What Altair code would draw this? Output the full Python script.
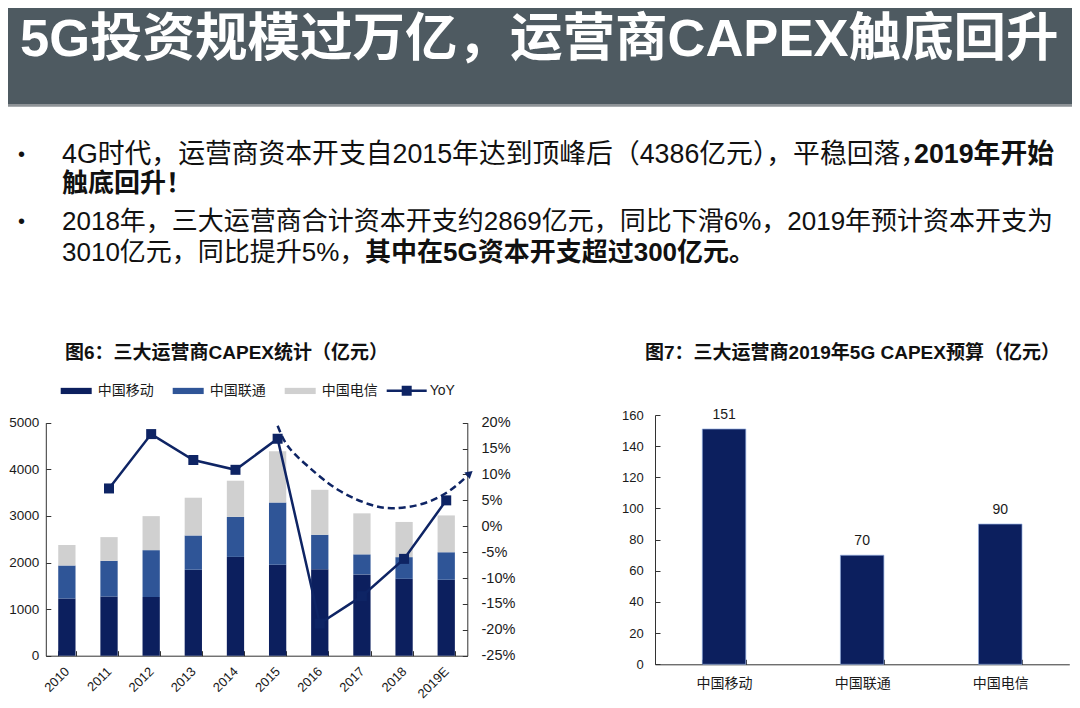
import altair as alt
import pandas as pd

# ---------------- data ----------------
years = ["2010", "2011", "2012", "2013", "2014", "2015", "2016", "2017", "2018", "2019E"]
operators = ["中国移动", "中国联通", "中国电信"]
capex_cmcc = [1225, 1270, 1260, 1845, 2120, 1950, 1855, 1745, 1650, 1630]
capex_cucc = [710, 765, 1005, 735, 860, 1335, 740, 430, 465, 590]
capex_ctc = [440, 510, 730, 810, 775, 1100, 965, 880, 755, 790]
yoy_pct = [None, 7.3, 17.8, 12.8, 10.9, 16.9, -18.8, -13.5, -6.3, 5.0]
# dashed trend annotation (x in category index units, y in YoY %)
trend_x = [5.0, 5.25, 5.73, 6.44, 7.23, 7.78, 8.42, 9.05, 9.56]
trend_y = [19.4, 15.4, 11.5, 7.0, 4.1, 3.5, 4.3, 6.7, 10.2]
budget_5g = [151, 70, 90]
capex_ticks = [0, 1000, 2000, 3000, 4000, 5000]
yoy_ticks = [-25, -20, -15, -10, -5, 0, 5, 10, 15, 20]
budget_ticks = [0, 20, 40, 60, 80, 100, 120, 140, 160]

slide_title = "5G投资规模过万亿，运营商CAPEX触底回升"
b1_normal = "4G时代，运营商资本开支自2015年达到顶峰后（4386亿元），平稳回落，"
b1_bold = "2019年开始"
b1_line2 = "触底回升！"
b2_line1 = "2018年，三大运营商合计资本开支约2869亿元，同比下滑6%，2019年预计资本开支为"
b2_normal = "3010亿元，同比提升5%，"
b2_bold = "其中在5G资本开支超过300亿元。"
fig6_title = "图6：三大运营商CAPEX统计（亿元）"
fig7_title = "图7：三大运营商2019年5G CAPEX预算（亿元）"

# ---------------- style ----------------
NAVY = "#0c1f5e"
BLUE = "#2f5597"
GREY = "#d0d0d0"
LINE = "#0e2464"
HDR = "#4e5a61"
FONT = "Liberation Sans, Noto Sans CJK SC"
CJK = "Noto Sans CJK SC"
W, H = 1064, 692
OX, OY = 8, 8  # page margin


def px(x):
    return x - OX


def py(y):
    return y - OY


L_X0, L_X1 = px(45.8), px(467.3)
L_Y0, L_Y1 = py(655.7), py(422.7)
R_X0, R_X1 = px(655), px(1069.3)
R_Y0, R_Y1 = py(664.3), py(415)

one = pd.DataFrame({"k": [0]})


def txt(s, x, y, size, bold=False, color="#111111", font=FONT, align="left"):
    return alt.Chart(one).mark_text(
        text=s, align=align, baseline="middle", fontSize=size,
        fontWeight="bold" if bold else "normal", color=color, font=font
    ).encode(x=alt.value(x), y=alt.value(y))


def rect(x, x2, y, y2, color):
    return alt.Chart(one).mark_rect(color=color).encode(
        x=alt.value(x), x2=alt.value(x2), y=alt.value(y), y2=alt.value(y2))


tick_in = {"expr": "-5"}
ax_common = dict(domainColor="#333333", tickColor="#333333", labelColor="#1a1a1a",
                 title=None, grid=False, tickSize=tick_in, domainWidth=1, tickWidth=1,
                 labelOverlap=False, labelFlush=False)

# ---------------- header & text ----------------
layers = [
    rect(0, W, 0, py(104), HDR),
    rect(0, W, py(104), py(106.7), "#8e9397"),
    txt(slide_title, px(20), py(40), 52.5, bold=True, color="#ffffff"),
    txt("•", px(18), py(155), 20),
    txt(b1_normal, px(62), py(155), 26.8),
    txt(b1_bold, px(914), py(155), 26.8, bold=True),
    txt(b1_line2, px(62), py(184), 26, bold=True),
    txt("•", px(18), py(222), 20),
    txt(b2_line1, px(62), py(222), 26),
    txt(b2_normal, px(62), py(253), 26),
    txt(b2_bold, px(365), py(253), 26, bold=True),
    txt(fig6_title, px(65), py(353), 19, bold=True),
    txt(fig7_title, px(645), py(353), 19, bold=True),
]

# ---------------- left chart: stacked CAPEX + YoY ----------------
bar_df = pd.DataFrame({
    "year": years * 3,
    "op": [operators[0]] * 10 + [operators[1]] * 10 + [operators[2]] * 10,
    "value": capex_cmcc + capex_cucc + capex_ctc,
    "ord": [0] * 10 + [1] * 10 + [2] * 10,
})
yoy_df = pd.DataFrame({"year": years, "yoy": yoy_pct, "s": ["YoY"] * 10}).dropna()
trend_df = pd.DataFrame({"tx": trend_x, "ty": trend_y})
arrow_df = trend_df.tail(1)


def xL():
    return alt.Scale(domain=years, range=[L_X0, L_X1], paddingInner=0.59, paddingOuter=0.295)


def yCap():
    return alt.Scale(domain=[0, 5000], range=[L_Y0, L_Y1], nice=False)


def yYoy():
    return alt.Scale(domain=[-25, 20], range=[L_Y0, L_Y1], nice=False, zero=False)


bars = alt.Chart(bar_df).mark_bar().encode(
    x=alt.X("year:N", sort=years, scale=xL(), axis=alt.Axis(
        orient="bottom", offset=-(H - L_Y0), tickBand="extent", labelAngle=315,
        labelAlign="right", labelBaseline="middle", labelPadding=18.3,
        labelFont="Liberation Sans", labelFontSize=13, **ax_common)),
    y=alt.Y("value:Q", stack="zero", scale=yCap(), axis=alt.Axis(
        orient="left", offset=-L_X0, values=capex_ticks, format="d",
        labelAlign="right", labelBaseline="middle", labelPadding=12,
        labelFont="Liberation Sans", labelFontSize=13.5, **ax_common)),
    color=alt.Color("op:N", scale=alt.Scale(domain=operators, range=[NAVY, BLUE, GREY]),
                    legend=alt.Legend(
                        orient="none", legendX=px(60.7), legendY=py(390.7) - 15.5,
                        direction="horizontal", title=None,
                        symbolType="M-1,-0.2H1V0.2H-1Z", symbolSize=961, symbolStrokeWidth=0,
                        labelFont=CJK, labelFontSize=14, labelOffset=6, columnPadding=19,
                        padding=0, labelColor="#1a1a1a")),
    order=alt.Order("ord:Q", sort="ascending"),
)

yoy_line = alt.Chart(yoy_df).mark_line(color=LINE, strokeWidth=2.5).encode(
    x=alt.X("year:N", sort=years, scale=xL(), axis=None),
    y=alt.Y("yoy:Q", scale=yYoy(), axis=alt.Axis(
        orient="right", offset=-(W - L_X1), values=yoy_ticks, labelExpr="datum.value + '%'",
        labelAlign="left", labelBaseline="middle", labelPadding=18.7,
        labelFont="Liberation Sans", labelFontSize=14.5, **ax_common)),
)

yoy_pts = alt.Chart(yoy_df).mark_point(shape="square", filled=True, size=100, opacity=1).encode(
    x=alt.X("year:N", sort=years, scale=xL(), axis=None),
    y=alt.Y("yoy:Q", scale=yYoy(), axis=None),
    color=alt.Color("s:N", scale=alt.Scale(domain=["YoY"], range=[LINE]), legend=alt.Legend(
        orient="none", legendX=px(386.7), legendY=py(390.7) - 20, title=None,
        symbolType="M-1,-0.06H1V0.06H-1Z M-0.25,-0.25H0.25V0.25H-0.25Z",
        symbolSize=1600, symbolStrokeWidth=0, labelFont="Liberation Sans",
        labelFontSize=14, labelOffset=3, padding=0, labelColor="#1a1a1a")),
)

trend = alt.Chart(trend_df).mark_line(color=LINE, strokeWidth=2.5, strokeDash=[7, 4],
                                      interpolate="natural").encode(
    x=alt.X("tx:Q", scale=alt.Scale(domain=[-0.5, 9.5], range=[L_X0, L_X1], nice=False, zero=False),
            axis=None),
    y=alt.Y("ty:Q", scale=yYoy(), axis=None),
)

arrow = alt.Chart(arrow_df).mark_point(shape="triangle-up", filled=True, size=70, angle=50,
                                       color=LINE, opacity=1).encode(
    x=alt.X("tx:Q", scale=alt.Scale(domain=[-0.5, 9.5], range=[L_X0, L_X1], nice=False, zero=False),
            axis=None),
    y=alt.Y("ty:Q", scale=yYoy(), axis=None),
)

# ---------------- right chart: 5G budget ----------------
b_df = pd.DataFrame({"op": operators, "v": budget_5g})


def xR():
    return alt.Scale(domain=operators, range=[R_X0, R_X1], paddingInner=0.685, paddingOuter=0.3425)


def yR():
    return alt.Scale(domain=[0, 160], range=[R_Y0, R_Y1], nice=False)


r_bars = alt.Chart(b_df).mark_bar(color=NAVY, stroke="#8faadc", strokeWidth=0.7).encode(
    x=alt.X("op:N", sort=operators, scale=xR(), axis=alt.Axis(
        orient="bottom", offset=-(H - R_Y0), tickBand="extent", labelAngle=0,
        labelAlign="center", labelBaseline="middle", labelPadding=24,
        labelFont=CJK, labelFontSize=14, **ax_common)),
    y=alt.Y("v:Q", scale=yR(), axis=alt.Axis(
        orient="left", offset=-R_X0, values=budget_ticks, format="d",
        labelAlign="right", labelBaseline="middle", labelPadding=16.7,
        labelFont="Liberation Sans", labelFontSize=13, **ax_common)),
)

r_text = alt.Chart(b_df).mark_text(baseline="bottom", dy=-7, fontSize=14,
                                   font="Liberation Sans", color="#1a1a1a").encode(
    x=alt.X("op:N", sort=operators, scale=xR(), axis=None),
    y=alt.Y("v:Q", scale=yR(), axis=None),
    text=alt.Text("v:Q"),
)

layers += [bars, yoy_line, yoy_pts, trend, arrow, r_bars, r_text]

chart = alt.layer(*layers).resolve_scale(
    x="independent", y="independent", color="independent"
).properties(
    width=W, height=H, padding=0, autosize=alt.AutoSizeParams(type="none")
).configure_view(stroke=None)

chart.save("out.html", embed_options={"renderer": "svg", "actions": False})
